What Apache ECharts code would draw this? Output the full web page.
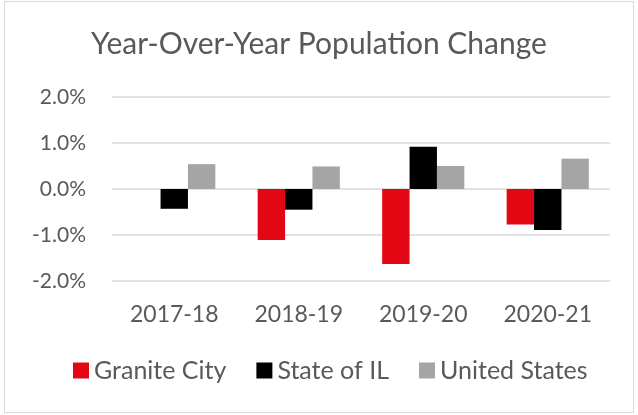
<!DOCTYPE html>
<html>
<head>
<meta charset="utf-8">
<script src="https://cdn.jsdelivr.net/npm/echarts@6/dist/echarts.min.js"></script>
<style>
  html, body { margin: 0; padding: 0; background: #fff; }
  #chart {
    position: absolute; left: 4px; top: 1px;
    width: 630px; height: 412px;
    border: 1px solid #d9d9d9; box-sizing: border-box;
  }
</style>
</head>
<body>
<div id="chart"></div>
<script>
const categories = ["2017-18", "2018-19", "2019-20", "2020-21"];
const graniteCity = [null, -1.11, -1.63, -0.77];
const stateIL = [-0.43, -0.45, 0.92, -0.89];
const unitedStates = [0.54, 0.49, 0.5, 0.66];

const font = "Lato";
const chart = echarts.init(document.getElementById("chart"));

const options = {
  animation: false,
  title: {
    text: "Year-Over-Year Population Change",
    left: "center",
    top: 22,
    textStyle: { fontFamily: font, fontSize: 30, fontWeight: "normal", color: "#595959" },
  },
  legend: {
    bottom: 24,
    left: 63,
    itemWidth: 16,
    itemHeight: 16,
    itemGap: 30,
    icon: "rect",
    textStyle: { fontFamily: font, fontSize: 25, color: "#595959" },
    data: ["Granite City", "State of IL", "United States"],
  },
  grid: { left: 107, right: 23, top: 95, bottom: 131 },
  xAxis: {
    type: "category",
    data: categories,
    axisLine: { show: false },
    axisTick: { show: false },
    axisLabel: { fontFamily: font, fontSize: 23, color: "#595959", margin: 22 },
  },
  yAxis: {
    type: "value",
    min: -2,
    max: 2,
    interval: 1,
    axisLabel: {
      fontFamily: font, fontSize: 21, color: "#595959", margin: 26,
      formatter: (v) => v.toFixed(1) + "%",
    },
    splitLine: { lineStyle: { color: "#d9d9d9", width: 1.5 } },
  },
  series: [
    { name: "Granite City", type: "bar", data: graniteCity, itemStyle: { color: "#E30613" }, barGap: "0%", barCategoryGap: "34%" },
    { name: "State of IL", type: "bar", data: stateIL, itemStyle: { color: "#000000" } },
    { name: "United States", type: "bar", data: unitedStates, itemStyle: { color: "#A5A5A5" } },
  ],
};
chart.setOption(options);
</script>
</body>
</html>
